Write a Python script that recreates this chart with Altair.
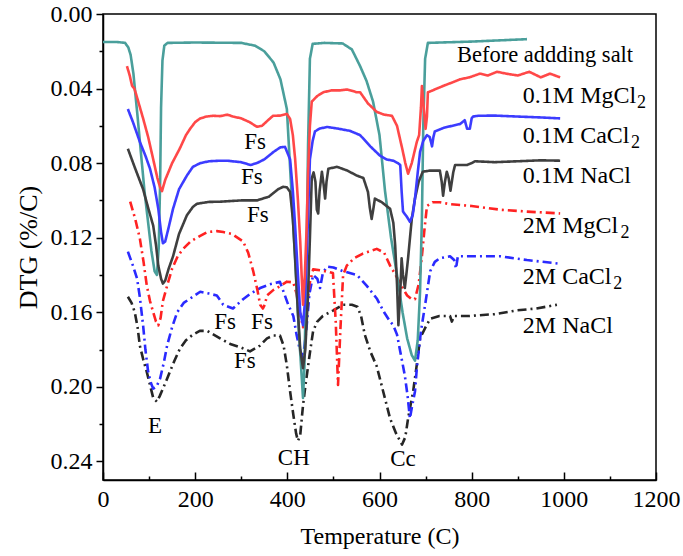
import altair as alt
import pandas as pd

# ---------------- data ----------------
before_T = [0, 30, 48, 55, 60, 66, 75, 90, 105, 112, 117, 121, 124, 126, 129, 133, 140, 200, 300, 330, 350, 370, 385, 399, 413, 425, 434, 437, 441, 445, 449, 455, 480, 520, 540, 558, 572, 586, 600, 612, 625, 638, 650, 660, 670, 677, 683, 688, 692, 695, 699, 705, 800, 920]
before_D = [.015, .015, .0155, .018, .022, .032, .055, .095, .127, .138, .140, .125, .09, .05, .025, .017, .0155, .0153, .0155, .017, .020, .026, .035, .051, .114, .17, .206, .19, .14, .07, .024, .016, .0155, .0158, .019, .028, .036, .047, .065, .095, .12, .140, .16, .174, .183, .186, .175, .149, .11, .060, .024, .0155, .0148, .0135]

mg01_T = [52, 58, 63, 68, 73, 80, 87, 98, 109, 118, 124, 128, 135, 150, 167, 180, 189, 200, 211, 225, 239, 254, 270, 282, 300, 318, 334, 345, 358, 369, 385, 399, 406, 412, 417, 423, 428, 431, 434, 438, 442, 445, 449, 453, 465, 478, 495, 514, 530, 551, 558, 575, 594, 610, 627, 638, 650, 656, 662, 670, 681, 686, 690, 692, 696, 700, 703, 705, 715, 738, 755, 775, 795, 818, 835, 855, 875, 900, 925, 950, 970, 992]
mg01_D = [.028, .033, .0385, .040, .044, .050, .056, .066, .078, .088, .093, .095, .089, .080, .072, .065, .0616, .058, .056, .055, .0546, .0548, .054, .055, .056, .058, .0605, .060, .057, .0546, .0545, .0536, .0563, .065, .078, .100, .122, .14, .156, .14, .114, .085, .060, .047, .044, .042, .041, .041, .0405, .042, .042, .048, .0525, .054, .0546, .060, .073, .080, .0857, .080, .0686, .065, .05, .0386, .05, .0616, .055, .042, .041, .0386, .037, .035, .034, .032, .033, .031, .032, .033, .031, .034, .032, .034]

ca01_T = [54, 65, 80, 92, 102, 112, 120, 126, 130, 135, 142, 152, 165, 182, 195, 211, 230, 254, 269, 300, 320, 334, 350, 370, 385, 395, 406, 412, 417, 423, 428, 434, 438, 442, 446, 449, 455, 460, 470, 486, 510, 536, 558, 580, 601, 615, 630, 640, 645, 648, 651, 660, 666, 672, 677, 683, 688, 695, 703, 709, 714, 717, 720, 740, 775, 785, 790, 796, 800, 803, 814, 850, 898, 950, 992]
ca01_D = [.051, .058, .0686, .076, .083, .093, .1045, .117, .123, .122, .115, .1045, .094, .0867, .082, .080, .079, .0787, .0787, .0795, .081, .080, .078, .074, .0715, .0713, .078, .095, .114, .14, .16, .167, .155, .131, .10, .078, .068, .063, .0615, .0606, .0615, .0627, .065, .071, .076, .078, .0787, .080, .081, .095, .106, .109, .1115, .108, .099, .085, .074, .068, .065, .066, .071, .066, .063, .061, .059, .057, .0615, .0616, .056, .055, .0546, .0545, .055, .0555, .056]

na01_T = [54, 70, 87, 98, 109, 115, 120, 126, 130, 135, 142, 152, 165, 182, 195, 204, 230, 254, 300, 334, 360, 380, 391, 399, 406, 412, 417, 423, 428, 434, 439, 445, 449, 453, 457, 461, 464, 467, 470, 475, 479, 482, 485, 489, 508, 530, 551, 565, 575, 579, 583, 587, 590, 605, 623, 630, 634, 638, 641, 645, 648, 651, 655, 659, 662, 670, 677, 685, 694, 710, 731, 735, 738, 742, 746, 750, 754, 757, 760, 764, 790, 800, 807, 850, 900, 950, 992]
na01_D = [.0723, .083, .094, .104, .1136, .124, .135, .142, .1446, .143, .137, .130, .118, .108, .1035, .1018, .1008, .1007, .100, .100, .098, .094, .0927, .093, .0954, .11, .131, .16, .18, .19, .18, .15, .12, .088, .085, .09, .105, .107, .095, .0846, .092, .099, .09, .083, .082, .084, .0867, .088, .0955, .104, .110, .104, .099, .101, .1045, .112, .124, .145, .167, .15, .131, .14, .147, .138, .131, .11, .099, .09, .0846, .084, .084, .09, .0975, .09, .0846, .088, .0948, .09, .085, .081, .081, .080, .079, .0795, .079, .0785, .0787]

mg2_T = [59, 70, 80, 88, 95, 102, 109, 115, 120, 125, 130, 140, 150, 162, 174, 190, 211, 226, 247, 261, 280, 304, 315, 326, 335, 341, 347, 351, 356, 370, 384, 399, 413, 420, 427, 434, 441, 448, 456, 477, 499, 505, 510, 515, 521, 529, 545, 564, 594, 610, 623, 635, 648, 660, 670, 677, 685, 692, 697, 703, 715, 731, 753, 800, 862, 920, 992]
mg2_D = [.1007, .110, .1205, .133, .1457, .154, .160, .165, .167, .163, .154, .145, .1366, .130, .126, .122, .119, .117, .1165, .117, .118, .122, .128, .138, .148, .156, .158, .156, .151, .148, .146, .1436, .144, .150, .160, .168, .16, .145, .137, .1377, .139, .165, .199, .17, .14, .135, .131, .1285, .126, .128, .135, .140, .146, .151, .153, .153, .145, .13, .117, .103, .101, .101, .102, .103, .105, .106, .107]

ca2_T = [54, 65, 74, 80, 87, 92, 98, 104, 109, 116, 124, 132, 139, 150, 161, 175, 189, 211, 230, 247, 261, 282, 304, 320, 341, 362, 384, 402, 413, 420, 427, 434, 441, 448, 456, 465, 471, 477, 486, 500, 521, 551, 572, 594, 610, 623, 630, 638, 645, 655, 661, 666, 671, 677, 681, 690, 699, 710, 720, 731, 753, 762, 766, 770, 775, 800, 862, 920, 992]
ca2_D = [.1275, .135, .142, .152, .167, .18, .192, .198, .201, .2, .1955, .187, .178, .168, .160, .155, .1527, .149, .150, .151, .156, .158, .153, .150, .147, .145, .1437, .156, .162, .172, .18, .185, .17, .15, .140, .142, .147, .139, .1355, .136, .138, .140, .1457, .1526, .160, .165, .167, .172, .181, .194, .205, .217, .21, .2025, .19, .17, .156, .138, .133, .131, .130, .132, .1366, .13, .130, .130, .130, .132, .134]

na2_T = [54, 62, 69, 75, 80, 88, 95, 102, 109, 113, 117, 123, 130, 137, 145, 155, 167, 180, 195, 210, 226, 240, 254, 276, 300, 319, 340, 356, 370, 384, 392, 399, 406, 413, 419, 423, 428, 434, 440, 445, 450, 456, 465, 477, 500, 521, 540, 552, 560, 568, 580, 594, 608, 623, 636, 649, 656, 662, 673, 681, 688, 700, 710, 730, 753, 757, 762, 796, 850, 898, 940, 985]
na2_D = [.1517, .155, .160, .168, .178, .186, .192, .199, .206, .207, .208, .205, .201, .197, .192, .186, .1795, .175, .172, .170, .170, .172, .174, .177, .179, .181, .178, .174, .1725, .1725, .178, .1886, .2025, .215, .225, .229, .226, .21, .198, .189, .18, .170, .165, .162, .159, .156, .156, .157, .162, .172, .181, .189, .2025, .217, .225, .231, .227, .217, .2025, .188, .174, .168, .1635, .162, .162, .165, .162, .162, .161, .159, .158, .156]

series_keys = ["a 2M NaCl", "b 2M CaCl2", "c 2M MgCl2", "d Before", "e 0.1M NaCl", "f 0.1M CaCl2", "g 0.1M MgCl2"]
series_data = [(na2_T, na2_D), (ca2_T, ca2_D), (mg2_T, mg2_D), (before_T, before_D),
               (na01_T, na01_D), (ca01_T, ca01_D), (mg01_T, mg01_D)]
series_colors = ["#262626", "#2a2aff", "#ff2222", "#4a9f9b", "#3f3f3f", "#3c3cff", "#ff4848"]
series_dash = [[9, 4, 2, 4], [9, 4, 2, 4], [9, 4, 2, 4], [1, 0], [1, 0], [1, 0], [1, 0]]
series_width = [2.6, 2.6, 2.6, 3.2, 2.6, 2.6, 3.2]

# right-hand labels
before_text = ["Before addding salt"]
before_T_lab = [768]
before_D_lab = [.022]
lab_text = ["0.1M MgCl", "0.1M CaCl", "0.1M NaCl", "2M MgCl", "2M CaCl", "2M NaCl"]
lab_T = [911, 911, 911, 911, 911, 911]
lab_D = [.0439, .0653, .0868, .114, .141, .1676]
sub_T = [1159, 1146, 1123, 1107]
sub_D = [.0439, .0653, .114, .141]

# peak annotations
ann_text = ["Fs", "Fs", "Fs", "Fs", "Fs", "Fs", "E", "CH", "Cc"]
ann_T = [330, 323, 336, 265, 345, 308, 113, 414, 651]
ann_D = [.0686, .0873, .108, .165, .165, .186, .221, .238, .239]

x_major = [0, 200, 400, 600, 800, 1000, 1200]
x_minor = [100, 300, 500, 700, 900, 1100]
y_major = [0.00, 0.04, 0.08, 0.12, 0.16, 0.20, 0.24]
y_minor = [0.02, 0.06, 0.10, 0.14, 0.18, 0.22]

# ---------------- build tables ----------------
rows = []
for key, (ts, ds) in zip(series_keys, series_data):
    for i, (t, d) in enumerate(zip(ts, ds)):
        rows.append({"series": key, "T": t, "D": d, "idx": i})
df = pd.DataFrame(rows)
before_df = pd.DataFrame({"T": before_T_lab, "D": before_D_lab, "text": before_text})
lab_df = pd.DataFrame({"T": lab_T, "D": lab_D, "text": lab_text})
sub_df = pd.DataFrame({"T": sub_T, "D": sub_D, "text": ["2"] * len(sub_T)})
ann_df = pd.DataFrame({"T": ann_T, "D": ann_D, "text": ann_text})

W, H = 553, 466
FONT = "Liberation Serif"
FS = 24

xscale = alt.Scale(domain=[0, 1200], nice=False, zero=False)
yscale = alt.Scale(domain=[0, 0.25], reverse=True, nice=False, zero=False)

lines = alt.Chart(df).mark_line(strokeJoin="round", clip=True).encode(
    x=alt.X("T:Q", scale=xscale, axis=alt.Axis(
        orient="bottom", values=x_major, format="d", ticks=False, grid=False, domain=True,
        domainColor="black", domainWidth=1.5, labelFont=FONT, labelFontSize=FS,
        labelColor="black", labelPadding=7, labelFlush=False,
        title="Temperature (C)", titleFont=FONT, titleFontSize=FS,
        titleFontWeight="normal", titleColor="black", titlePadding=13)),
    y=alt.Y("D:Q", scale=yscale, axis=alt.Axis(
        orient="left", values=y_major, format=".2f", tickSize=7, tickWidth=1.5,
        tickColor="black", grid=False, domain=True, domainColor="black",
        domainWidth=1.5, labelFont=FONT, labelFontSize=FS, labelColor="black",
        labelPadding=4, labelFlush=False, title="DTG (%/C)", titleFont=FONT,
        titleFontSize=26, titleFontWeight="normal", titleColor="black",
        titlePadding=9)),
    color=alt.Color("series:N", scale=alt.Scale(domain=series_keys, range=series_colors), legend=None),
    strokeDash=alt.StrokeDash("series:N", scale=alt.Scale(domain=series_keys, range=series_dash), legend=None),
    strokeWidth=alt.StrokeWidth("series:N", scale=alt.Scale(domain=series_keys, range=series_width), legend=None),
    order="idx:Q",
)

labels = alt.Chart(lab_df).mark_text(
    align="left", baseline="middle", font=FONT, fontSize=FS, color="black"
).encode(
    x=alt.X("T:Q", scale=xscale, axis=alt.Axis(
        orient="top", offset=-H, values=x_major, labels=False, domain=False,
        grid=False, tickSize=8, tickWidth=1.5, tickColor="black", title=None)),
    y=alt.Y("D:Q", scale=yscale, axis=alt.Axis(
        orient="left", values=y_minor, labels=False, domain=False, grid=False,
        tickSize=4, tickWidth=1.5, tickColor="black", title=None)),
    text="text:N",
)

before_lab = alt.Chart(before_df).mark_text(
    align="left", baseline="middle", font=FONT, fontSize=22.5, color="black"
).encode(
    x=alt.X("T:Q", scale=xscale, axis=None),
    y=alt.Y("D:Q", scale=yscale, axis=None),
    text="text:N",
)

subs = alt.Chart(sub_df).mark_text(
    align="left", baseline="middle", font=FONT, fontSize=18, color="black", dy=7
).encode(
    x=alt.X("T:Q", scale=xscale, axis=alt.Axis(
        orient="top", offset=-H, values=x_minor, labels=False, domain=False,
        grid=False, tickSize=4, tickWidth=1.5, tickColor="black", title=None)),
    y=alt.Y("D:Q", scale=yscale, axis=None),
    text="text:N",
)

ann = alt.Chart(ann_df).mark_text(
    align="center", baseline="middle", font=FONT, fontSize=23, color="black"
).encode(
    x=alt.X("T:Q", scale=xscale, axis=None),
    y=alt.Y("D:Q", scale=yscale, axis=None),
    text="text:N",
)

chart = alt.layer(lines, labels, before_lab, subs, ann).resolve_axis(
    x="independent", y="independent"
).properties(
    width=W, height=H,
    autosize=alt.AutoSizeParams(type="none"),
    padding={"left": 103, "top": 14, "right": 27, "bottom": 76},
    background="white",
).configure_view(stroke="black", strokeWidth=1.5)

chart.save("out.html", embed_options={"renderer": "svg", "actions": False})
